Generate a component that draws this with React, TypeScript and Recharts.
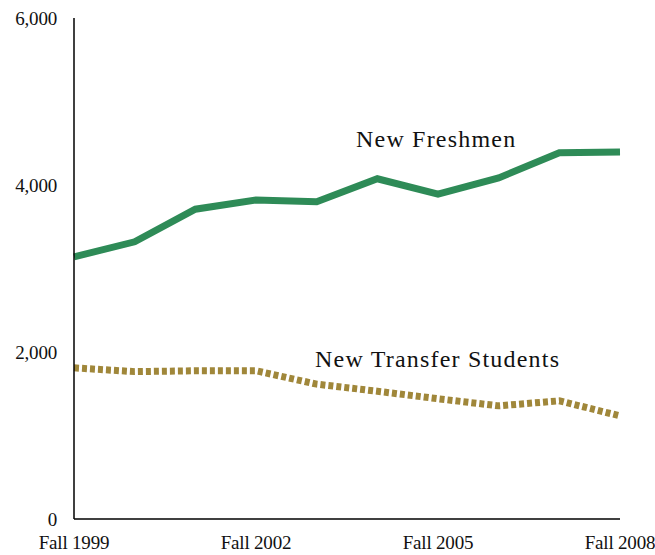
import { LineChart, Line, XAxis, YAxis } from 'recharts';

const terms = [
  'Fall 1999', 'Fall 2000', 'Fall 2001', 'Fall 2002', 'Fall 2003',
  'Fall 2004', 'Fall 2005', 'Fall 2006', 'Fall 2007', 'Fall 2008',
];
const freshmen = [3140, 3320, 3710, 3820, 3800, 4075, 3890, 4085, 4385, 4395];
const transfers = [1810, 1765, 1775, 1775, 1615, 1530, 1440, 1355, 1415, 1235];
const yTicks = [0, 2000, 4000, 6000];

const serif = '"Liberation Serif", "DejaVu Serif", serif';
const tickStyle = { fill: '#111', fontSize: 19, fontFamily: serif, letterSpacing: -0.2 };
const labelStyle = {
  position: 'absolute' as const,
  fontFamily: serif,
  fontSize: 24,
  letterSpacing: 1.2,
  color: '#111',
  whiteSpace: 'nowrap' as const,
  lineHeight: '24px',
};

const chartData = terms.map((term, i) => ({
  term,
  freshmen: freshmen[i],
  transfers: transfers[i],
}));

export default function App() {
  return (
    <div style={{ position: 'absolute', left: 0, top: 0, width: 655, height: 555, background: '#fff' }}>
      <LineChart
        width={655}
        height={555}
        data={chartData}
        margin={{ top: 18, right: 35, bottom: 6, left: 14 }}
      >
        <XAxis
          dataKey="term"
          interval={2}
          tickLine={false}
          axisLine={{ stroke: '#000', strokeWidth: 1.5 }}
          tick={tickStyle}
          tickMargin={11}
          height={30}
        />
        <YAxis
          domain={[0, 6000]}
          ticks={yTicks}
          tickFormatter={(v: number) => v.toLocaleString('en-US')}
          tickLine={false}
          axisLine={{ stroke: '#000', strokeWidth: 1.5 }}
          tick={tickStyle}
          tickMargin={11}
          width={60}
        />
        <Line
          type="linear"
          dataKey="freshmen"
          stroke="#2e8b57"
          strokeWidth={7}
          dot={false}
          isAnimationActive={false}
        />
        <Line
          type="linear"
          dataKey="transfers"
          stroke="#a0873a"
          strokeWidth={7}
          strokeDasharray="5 3"
          dot={false}
          isAnimationActive={false}
        />
      </LineChart>
      <div style={{ ...labelStyle, left: 356, top: 127 }}>New Freshmen</div>
      <div style={{ ...labelStyle, left: 315, top: 347 }}>New Transfer Students</div>
    </div>
  );
}
